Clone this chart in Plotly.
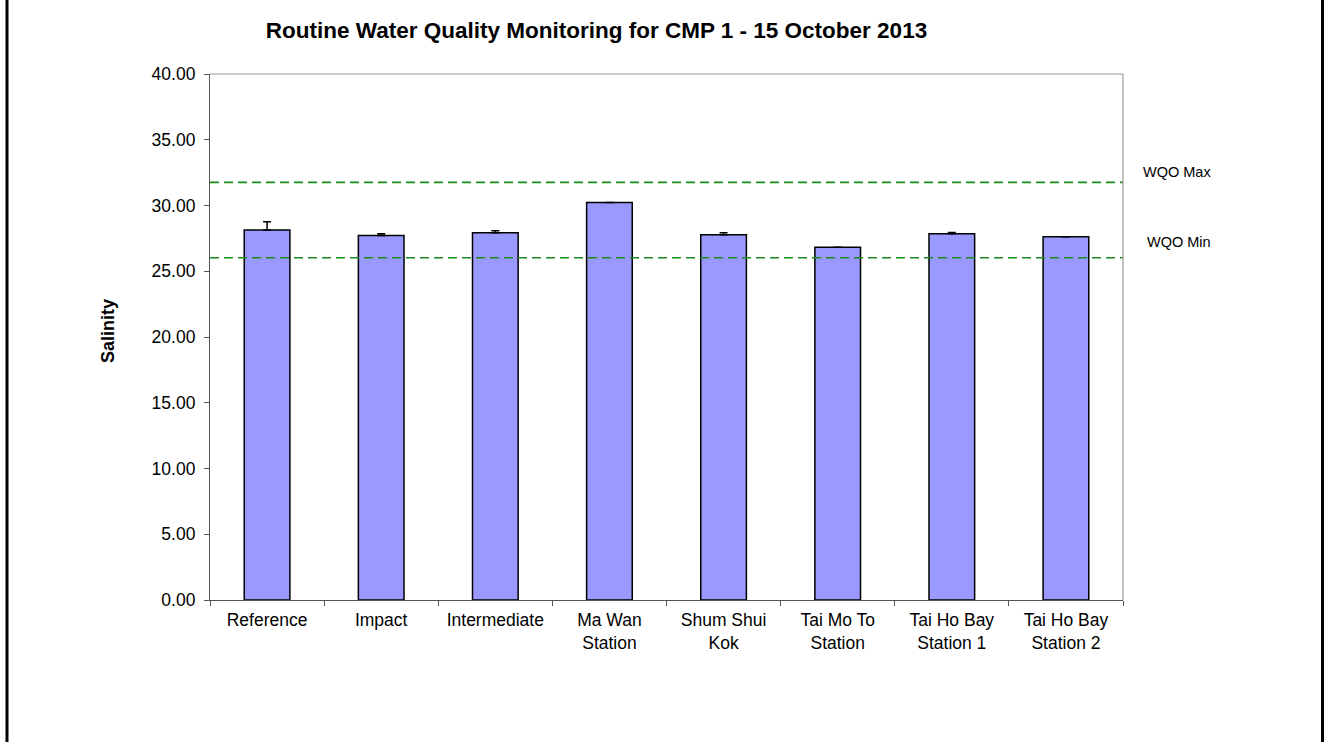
import plotly.graph_objects as go

# Station categories and mean salinity with upper error
stations = ["Reference", "Impact", "Intermediate", "Ma Wan<br>Station",
            "Shum Shui<br>Kok", "Tai Mo To<br>Station", "Tai Ho Bay<br>Station 1",
            "Tai Ho Bay<br>Station 2"]
salinity = [28.14, 27.71, 27.93, 30.22, 27.78, 26.82, 27.86, 27.63]
salinity_err = [0.63, 0.15, 0.15, 0.0, 0.15, 0.0, 0.08, 0.0]

# Water quality objective limits
wqo_max = 31.76
wqo_min = 26.03

y_ticks = [0, 5, 10, 15, 20, 25, 30, 35, 40]

FONT = "Liberation Sans, Arial, sans-serif"

W, H = 1324, 742
L, R, T, B = 210, 201, 74, 142
PW, PH = W - L - R, H - T - B


def px_x(x):
    """Page pixel column -> paper x of the plot domain."""
    return (x - L) / PW


def px_y(y):
    """Page pixel row -> paper y of the plot domain."""
    return (H - B - y) / PH


fig = go.Figure()

fig.add_trace(go.Bar(
    x=stations,
    y=salinity,
    marker=dict(color="#9999FF", line=dict(color="#000000", width=1.5)),
    error_y=dict(type="data", array=salinity_err, symmetric=False,
                 arrayminus=[0] * len(salinity_err),
                 color="#000000", thickness=1.5, width=4),
    width=0.4,
    showlegend=False,
))

for val in [wqo_max, wqo_min]:
    fig.add_hline(y=val, line=dict(color="#1A8C1A", width=1.6, dash="9px,5px"), layer="above")

fig.add_annotation(x=1.0, xref="paper", y=wqo_max, yref="y", text="WQO Max",
                   showarrow=False, xanchor="left", yanchor="middle",
                   xshift=18, yshift=10, font=dict(family=FONT, size=14.5, color="#000000"))
fig.add_annotation(x=1.0, xref="paper", y=wqo_min, yref="y", text="WQO Min",
                   showarrow=False, xanchor="left", yanchor="middle",
                   xshift=22, yshift=16, font=dict(family=FONT, size=14.5, color="#000000"))

# Y axis title
fig.add_annotation(x=px_x(108), xref="paper", y=px_y(331), yref="paper",
                   text="<b>Salinity</b>", textangle=-90, showarrow=False,
                   xanchor="center", yanchor="middle",
                   font=dict(family=FONT, size=18, color="#000000"))

# Page frame on the left and right edges
for xp in [7, 1322.5]:
    fig.add_shape(type="line", xref="paper", yref="paper",
                  x0=px_x(xp), x1=px_x(xp), y0=px_y(H), y1=px_y(0),
                  line=dict(color="#000000", width=3))

fig.update_layout(
    width=W, height=H,
    margin=dict(l=L, r=R, t=T, b=B),
    paper_bgcolor="#FFFFFF", plot_bgcolor="#FFFFFF",
    font=dict(family=FONT, size=18, color="#000000"),
    title=dict(text="<b>Routine Water Quality Monitoring for CMP 1 - 15 October 2013</b>",
               x=596.5 / W, xanchor="center", y=1 - 30 / H, yanchor="middle",
               font=dict(family=FONT, size=22.5, color="#000000")),
    bargap=0.6,
)

fig.update_yaxes(
    range=[0, 40], tickvals=y_ticks, ticktext=[f"{v:.2f}" for v in y_ticks],
    showgrid=False, zeroline=False,
    showline=True, linecolor="#555555", linewidth=1.2, mirror=False,
    ticks="outside", ticklen=5, tickcolor="#555555", ticklabelstandoff=5,
    tickfont=dict(family=FONT, size=17.5),
)
fig.update_xaxes(
    showgrid=False, showline=True, linecolor="#555555", linewidth=1.2,
    ticks="outside", ticklen=5, tickcolor="#555555", tickson="boundaries",
    ticklabelstandoff=4,
    tickfont=dict(family=FONT, size=17.5), tickangle=0,
)

# Light frame on top and right of plot area
fig.add_shape(type="line", xref="paper", yref="paper", x0=0, x1=1, y0=1, y1=1,
              line=dict(color="#999999", width=1.2))
fig.add_shape(type="line", xref="paper", yref="paper", x0=1, x1=1, y0=0, y1=1,
              line=dict(color="#999999", width=1.2))

fig.write_html("out.html")
